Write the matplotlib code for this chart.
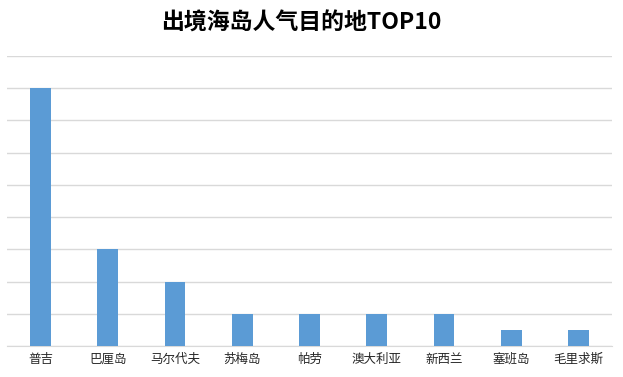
import matplotlib
matplotlib.use('Agg')
import matplotlib.pyplot as plt

plt.rcParams['font.family'] = ['Noto Sans CJK SC', 'DejaVu Sans']

# destinations and values (grid units)
places = ['普吉', '巴厘岛', '马尔代夫', '苏梅岛', '帕劳', '澳大利亚', '新西兰', '塞班岛', '毛里求斯']
values = [8, 3, 2, 1, 1, 1, 1, 0.5, 0.5]

fig = plt.figure(figsize=(6.23, 3.77), dpi=100)
ax = fig.add_axes([7/623, 31/377, 605/623, 290/377])

ax.bar(range(len(places)), values, width=0.31, color='#5B9BD5', zorder=3)
ax.set_xlim(-0.5, len(places) - 0.5)
ax.set_ylim(0, 9)
ax.set_yticks(range(0, 10))
ax.yaxis.grid(True, color='#D9D9D9', linewidth=1, zorder=0)
ax.tick_params(axis='y', left=False, labelleft=False)
ax.set_xticks(range(len(places)))
ax.set_xticklabels(places, fontsize=9, color='#262626')
ax.tick_params(axis='x', length=0, pad=5)
for s in ['top', 'right', 'left']:
    ax.spines[s].set_visible(False)
ax.spines['bottom'].set_color('#D9D9D9')

fig.text(0.483, 0.938, '出境海岛人气目的地TOP10', ha='center', va='center',
         fontsize=16.5, fontweight='bold', color='black')

fig.savefig('out.png', dpi=100)
